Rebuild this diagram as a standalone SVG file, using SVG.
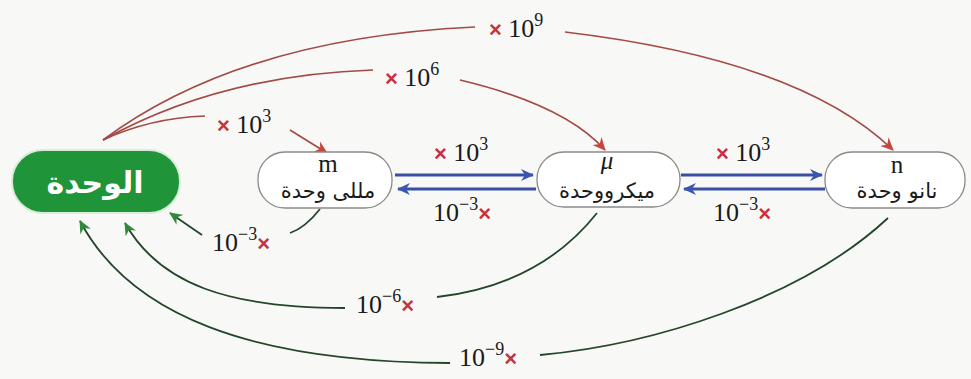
<svg xmlns="http://www.w3.org/2000/svg" width="971" height="379" viewBox="0 0 971 379">
<style>
.lbl{font-family:"Liberation Serif","Times New Roman",serif;font-size:26px;fill:#1a1a1a}
.sup{font-size:18px}
.x{fill:#c8323c;font-family:"Liberation Sans",Arial,sans-serif;font-size:22px;font-weight:bold}
.node{fill:#ffffff;stroke:#8a8a8a;stroke-width:1.3}
.sym{font-family:"Liberation Serif","Times New Roman",serif;font-size:25px;fill:#1a1a1a;text-anchor:middle}
.ar{font-family:"DejaVu Sans","Noto Sans",sans-serif;font-size:21px;fill:#1a1a1a;text-anchor:middle}
.red{fill:none;stroke:#a24a46;stroke-width:1.6}
.grn{fill:none;stroke:#23452a;stroke-width:1.8}
.blu{fill:none;stroke:#3a4fa3;stroke-width:3}
</style>
<defs>
<marker id="mr" markerWidth="14" markerHeight="12" refX="12" refY="6" orient="auto" markerUnits="userSpaceOnUse"><path d="M0,0 L13,6 L0,12 L4,6 z" fill="#c8453c"/></marker>
<marker id="mg" markerWidth="14" markerHeight="12" refX="12" refY="6" orient="auto" markerUnits="userSpaceOnUse"><path d="M0,0 L13,6 L0,12 L4,6 z" fill="#2f8a3c"/></marker>
<marker id="mb" markerWidth="14" markerHeight="12" refX="12" refY="6" orient="auto" markerUnits="userSpaceOnUse"><path d="M0,0 L13,6 L0,12 L4,6 z" fill="#3a56b0"/></marker>
</defs>
<rect width="971" height="379" fill="#f8f8f6"/>
<g id="connectors">
<path class="red" d="M103,140 Q240,38 475,27"/>
<path class="red" d="M565,32 Q800,60 893,150" marker-end="url(#mr)"/>
<path class="red" d="M103,140 Q220,75 373,70"/>
<path class="red" d="M460,80 Q565,105 605,150" marker-end="url(#mr)"/>
<path class="red" d="M103,140 Q150,118 205,116"/>
<path class="red" d="M290,130 L327,153" marker-end="url(#mr)"/>
<path class="blu" d="M395,175 L533,175" marker-end="url(#mb)"/>
<path class="blu" d="M536,189 L398,189" marker-end="url(#mb)"/>
<path class="blu" d="M681,175 L822,175" marker-end="url(#mb)"/>
<path class="blu" d="M825,189 L684,189" marker-end="url(#mb)"/>
<path class="grn" d="M320,209 Q305,228 290,233"/>
<path class="grn" d="M202,235 L170,213" marker-end="url(#mg)"/>
<path class="grn" d="M597,213 Q540,285 437,297"/>
<path class="grn" d="M345,308 C230,308 160,285 125,223" marker-end="url(#mg)"/>
<path class="grn" d="M888,218 C800,300 650,345 540,355"/>
<path class="grn" d="M450,363 C250,362 130,315 80,221" marker-end="url(#mg)"/>
</g>
<g id="labels">
<text class="lbl" x="489" y="37"><tspan class="x">×</tspan> 10<tspan class="sup" dy="-11">9</tspan></text>
<text class="lbl" x="385" y="86"><tspan class="x">×</tspan> 10<tspan class="sup" dy="-11">6</tspan></text>
<text class="lbl" x="217" y="133"><tspan class="x">×</tspan> 10<tspan class="sup" dy="-11">3</tspan></text>
<text class="lbl" x="434" y="161"><tspan class="x">×</tspan> 10<tspan class="sup" dy="-11">3</tspan></text>
<text class="lbl" x="716" y="161"><tspan class="x">×</tspan> 10<tspan class="sup" dy="-11">3</tspan></text>
<text class="lbl" x="433" y="221">10<tspan class="sup" dy="-11">−3</tspan><tspan class="x" dy="11">×</tspan></text>
<text class="lbl" x="713" y="221">10<tspan class="sup" dy="-11">−3</tspan><tspan class="x" dy="11">×</tspan></text>
<text class="lbl" x="212" y="251">10<tspan class="sup" dy="-11">−3</tspan><tspan class="x" dy="11">×</tspan></text>
<text class="lbl" x="356" y="313">10<tspan class="sup" dy="-11">−6</tspan><tspan class="x" dy="11">×</tspan></text>
<text class="lbl" x="459" y="366">10<tspan class="sup" dy="-11">−9</tspan><tspan class="x" dy="11">×</tspan></text>
</g>
<g id="node-unit">
<rect x="12" y="150" width="168" height="63" rx="31" fill="#1f9438" stroke="#d8ecd8" stroke-width="2"/>
<text x="95" y="193" font-family="DejaVu Sans,'Noto Sans',sans-serif" font-size="30" font-weight="bold" fill="#ffffff" text-anchor="middle">الوحدة</text>
</g>
<g id="node-milli">
<rect class="node" x="258" y="152" width="134" height="56" rx="27"/>
<text class="sym" x="328" y="172">m</text>
<text class="ar" x="328" y="198">مللى وحدة</text>
</g>
<g id="node-micro">
<rect class="node" x="537" y="152" width="143" height="55" rx="27"/>
<text class="sym" x="607" y="169" font-style="italic">μ</text>
<text class="ar" x="607" y="198">ميكرووحدة</text>
</g>
<g id="node-nano">
<rect class="node" x="825" y="152" width="140" height="56" rx="27"/>
<text class="sym" x="897" y="173">n</text>
<text class="ar" x="897" y="198">نانو وحدة</text>
</g>
</svg>
